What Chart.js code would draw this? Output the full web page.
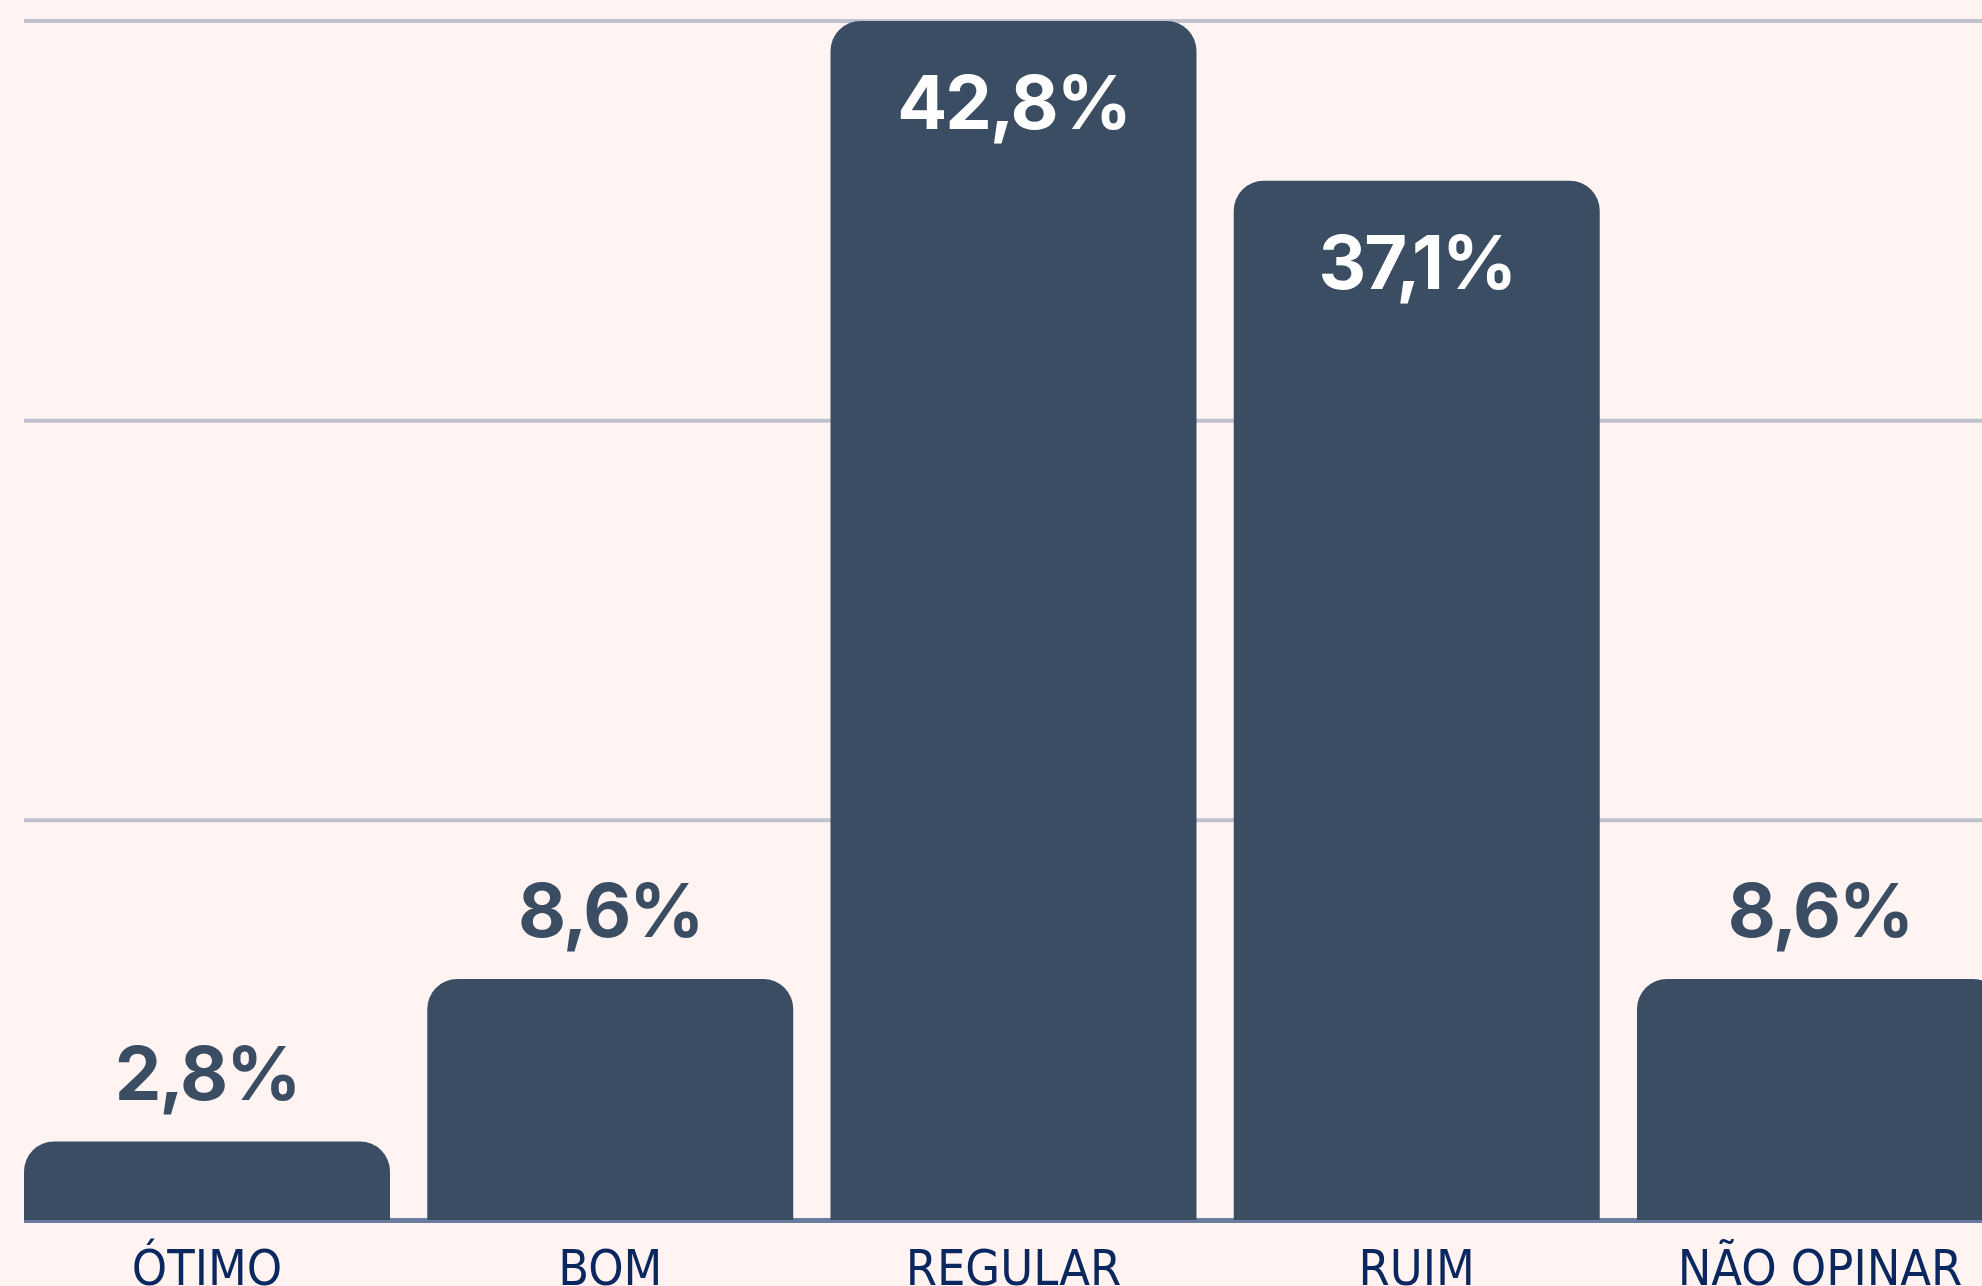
<!DOCTYPE html>
<html lang="pt-BR">
<head>
<meta charset="utf-8">
<title>Avaliação</title>
<script src="https://cdn.jsdelivr.net/npm/chart.js@4.4.1/dist/chart.umd.min.js"></script>
<style>
    html, body { margin: 0; padding: 0; overflow: hidden; background: #fff4f2; }
    #wrap { position: absolute; left: 0; top: 0; width: 2030px; height: 1299px; }
</style>
</head>
<body>
<div id="wrap"><canvas id="avaliacaoChart"></canvas></div>
<script>
// dados
const categorias = ['ÓTIMO', 'BOM', 'REGULAR', 'RUIM', 'NÃO OPINAR'];
const percentuais = [2.8, 8.6, 42.8, 37.1, 8.6];
const yTicks = [0, 14.27, 28.53, 42.8];

const corBarra = '#3a4d63';
const corGrade = '#c0c2d0';
const corEixo = '#6a7c9e';
const corRotulo = '#0a285f';

function formatarPct(v) {
    return v.toFixed(1).replace('.', ',') + '%';
}

// grade horizontal comecando na borda da primeira barra
const gradePlugin = {
    id: 'grade',
    beforeDatasetsDraw(chart) {
        const ctx = chart.ctx;
        const yScale = chart.scales.y;
        const first = chart.getDatasetMeta(0).data[0];
        const left = first.x - first.width / 2;
        ctx.save();
        yTicks.forEach(v => {
            const y = yScale.getPixelForValue(v);
            ctx.beginPath();
            if (v === 0) {
                ctx.strokeStyle = corEixo;
                ctx.lineWidth = 5;
                ctx.moveTo(left, y + 0.5);
                ctx.lineTo(chart.width, y + 0.5);
            } else {
                ctx.strokeStyle = corGrade;
                ctx.lineWidth = 4;
                ctx.moveTo(left, y);
                ctx.lineTo(chart.width, y);
            }
            ctx.stroke();
        });
        ctx.restore();
    }
};

// rotulos de valor: dentro da barra (branco) quando a barra e alta
const valoresPlugin = {
    id: 'valores',
    afterDatasetsDraw(chart) {
        const ctx = chart.ctx;
        const meta = chart.getDatasetMeta(0);
        ctx.save();
        ctx.font = "700 74px Inter, 'Open Sans', sans-serif";
        ctx.letterSpacing = '-2px';
        ctx.textAlign = 'center';
        ctx.textBaseline = 'alphabetic';
        meta.data.forEach((bar, i) => {
            const v = percentuais[i];
            const txt = formatarPct(v);
            if (v > 20) {
                ctx.fillStyle = '#ffffff';
                ctx.fillText(txt, bar.x, bar.y + 108);
            } else {
                ctx.fillStyle = corBarra;
                ctx.fillText(txt, bar.x, bar.y - 42);
            }
        });
        ctx.restore();
    }
};

const ctx = document.getElementById('avaliacaoChart').getContext('2d');
new Chart(ctx, {
    type: 'bar',
    data: {
        labels: categorias,
        datasets: [{
            data: percentuais,
            backgroundColor: corBarra,
            borderWidth: 0,
            borderSkipped: 'start',
            borderRadius: { topLeft: 30, topRight: 30, bottomLeft: 0, bottomRight: 0 },
            barPercentage: 0.9076,
            categoryPercentage: 1
        }]
    },
    options: {
        responsive: true,
        maintainAspectRatio: false,
        devicePixelRatio: 1,
        animation: false,
        layout: { padding: { top: 21, left: 5.4, right: 8.4, bottom: -25 } },
        plugins: {
            legend: { display: false },
            tooltip: { enabled: false }
        },
        scales: {
            x: {
                grid: { display: false, drawTicks: false },
                border: { display: false },
                ticks: {
                    color: corRotulo,
                    padding: 28,
                    maxRotation: 0,
                    autoSkip: false,
                    font: { family: "'Liberation Sans Narrow', 'DejaVu Sans Condensed', sans-serif", size: 50, lineHeight: 0.96 }
                }
            },
            y: {
                display: false,
                min: 0,
                max: 42.8
            }
        }
    },
    plugins: [gradePlugin, valoresPlugin]
});
</script>
</body>
</html>
